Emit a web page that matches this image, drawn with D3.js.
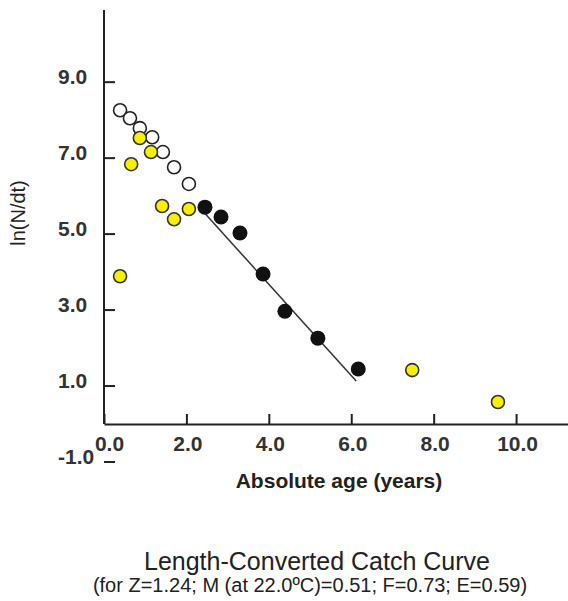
<!DOCTYPE html>
<html>
<head>
<meta charset="utf-8">
<script src="https://cdn.jsdelivr.net/npm/d3@7.9.0/dist/d3.min.js"></script>
<style>
  body { margin: 0; background: #fff; }
  svg { display: block; font-family: "Liberation Sans", Arial, sans-serif; }
</style>
</head>
<body>
<div id="chart"></div>
<script>
// ages (years) and ln(N/dt)
const openAge = [0.39, 0.63, 0.87, 1.17, 1.43, 1.70, 2.06];
const openLn = [8.26, 8.05, 7.79, 7.55, 7.16, 6.76, 6.32];

const yellowAge = [0.39, 0.66, 0.87, 1.14, 1.41, 1.70, 2.06, 7.48, 9.56];
const yellowLn = [3.89, 6.84, 7.53, 7.16, 5.74, 5.39, 5.66, 1.42, 0.58];

const usedAge = [2.45, 2.84, 3.30, 3.86, 4.39, 5.19, 6.17];
const usedLn = [5.71, 5.45, 5.03, 3.95, 2.97, 2.26, 1.45];

// regression line end points
const fitAge = [2.38, 6.12];
const fitLn = [5.63, 1.13];

const xTicks = [0, 2, 4, 6, 8, 10];
const yTicks = [-1, 1, 3, 5, 7, 9];

const title = "Length-Converted Catch Curve";
const subtitle = "(for Z=1.24; M (at 22.0ºC)=0.51; F=0.73; E=0.59)";
const xTitle = "Absolute age (years)";
const yTitle = "ln(N/dt)";

const width = 568;
const height = 601;

const fmt = d => d.toFixed(1); // plain hyphen for -1.0

const svg = d3.select("#chart")
  .append("svg")
  .attr("width", width)
  .attr("height", height);

const x = d3.scaleLinear()
  .domain([0, 11.26])
  .range([104, 568]);

const y = d3.scaleLinear()
  .domain([-1, 10.9])
  .range([462, 10]);

const axisColor = "#222";

// x axis
const xAxis = svg.append("g")
  .attr("transform", `translate(0, ${y(0)})`)
  .call(d3.axisBottom(x)
    .tickValues(xTicks)
    .tickSize(-10)
    .tickSizeOuter(0)
    .tickPadding(12)
    .tickFormat(fmt));

xAxis.select(".domain").attr("stroke", axisColor).attr("stroke-width", 2);
xAxis.selectAll(".tick line").attr("stroke", axisColor).attr("stroke-width", 2);
xAxis.selectAll(".tick text")
  .attr("fill", "#333")
  .attr("font-size", 21)
  .attr("font-weight", "bold")
  .attr("font-family", "'Liberation Sans', Arial, sans-serif")
  .attr("dx", d => d === 0 ? 5 : 1);

// y axis line, from x axis up
svg.append("line")
  .attr("x1", x(0)).attr("x2", x(0))
  .attr("y1", y(0)).attr("y2", y(10.9))
  .attr("stroke", axisColor)
  .attr("stroke-width", 2);

svg.append("g")
  .selectAll("line")
  .data(yTicks)
  .join("line")
  .attr("x1", x(0))
  .attr("x2", x(0) + 11)
  .attr("y1", d => y(d))
  .attr("y2", d => y(d))
  .attr("stroke", axisColor)
  .attr("stroke-width", 2);

svg.append("g")
  .selectAll("text")
  .data(yTicks)
  .join("text")
  .attr("x", 58)
  .attr("y", d => y(d) + 2)
  .attr("fill", "#333")
  .attr("font-size", 21)
  .attr("font-weight", "bold")
  .text(fmt);

// regression line
svg.append("line")
  .attr("x1", x(fitAge[0])).attr("y1", y(fitLn[0]))
  .attr("x2", x(fitAge[1])).attr("y2", y(fitLn[1]))
  .attr("stroke", "#333")
  .attr("stroke-width", 1.5);

// points
svg.append("g")
  .selectAll("circle")
  .data(openAge)
  .join("circle")
  .attr("cx", d => x(d))
  .attr("cy", (d, i) => y(openLn[i]))
  .attr("r", 6.5)
  .attr("fill", "#fff")
  .attr("stroke", "#222")
  .attr("stroke-width", 1.6);

svg.append("g")
  .selectAll("circle")
  .data(yellowAge)
  .join("circle")
  .attr("cx", d => x(d))
  .attr("cy", (d, i) => y(yellowLn[i]))
  .attr("r", 6.5)
  .attr("fill", "#f7f000")
  .attr("stroke", "#333")
  .attr("stroke-width", 1.6);

svg.append("g")
  .selectAll("circle")
  .data(usedAge)
  .join("circle")
  .attr("cx", d => x(d))
  .attr("cy", (d, i) => y(usedLn[i]))
  .attr("r", 7.5)
  .attr("fill", "#111");

// titles
svg.append("text")
  .attr("x", 339)
  .attr("y", 488)
  .attr("text-anchor", "middle")
  .attr("font-size", 21)
  .attr("font-weight", "bold")
  .attr("fill", "#222")
  .text(xTitle);

svg.append("text")
  .attr("transform", "translate(25, 213) rotate(-90)")
  .attr("text-anchor", "middle")
  .attr("font-size", 20)
  .attr("fill", "#222")
  .text(yTitle);

svg.append("text")
  .attr("x", 317)
  .attr("y", 570)
  .attr("text-anchor", "middle")
  .attr("font-size", 25)
  .attr("fill", "#222")
  .text(title);

svg.append("text")
  .attr("x", 310)
  .attr("y", 592)
  .attr("text-anchor", "middle")
  .attr("font-size", 20)
  .attr("fill", "#222")
  .text(subtitle);
</script>
</body>
</html>
